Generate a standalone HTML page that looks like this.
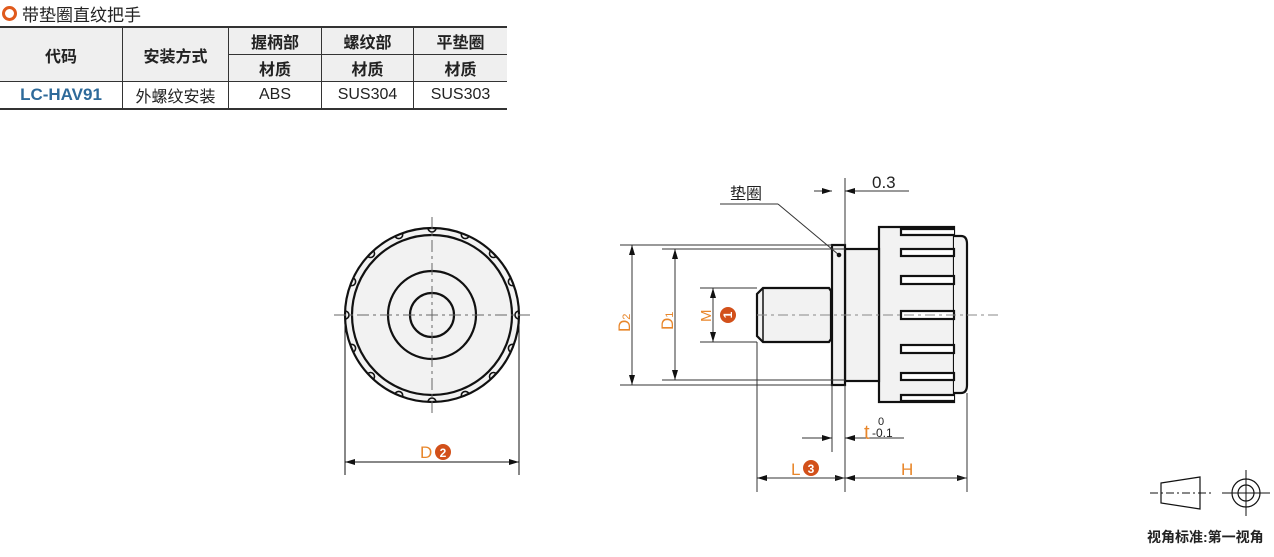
<!DOCTYPE html>
<html><head><meta charset="utf-8"><style>
body{margin:0;width:1274px;height:557px;background:#fff;overflow:hidden;position:relative;font-family:"Liberation Sans","Noto Sans CJK SC",sans-serif}
table{position:absolute;left:0;top:26px;border-collapse:collapse;font-size:16px;color:#222;border-top:2px solid #333;border-bottom:2px solid #333}
td{border:1px solid #333;text-align:center;height:26px;padding:0}
tr.h td{background:#efefef;font-weight:bold}
</style></head><body>
<div style="position:absolute;left:2px;top:1px;font-size:17px;color:#222;display:flex;align-items:center">
<span style="display:inline-block;width:9px;height:9px;border:3px solid #e05a1c;border-radius:50%;margin-right:5px"></span>带垫圈直纹把手</div>
<table>
<tr class="h"><td rowspan="2" style="width:122px;border-left:none">代码</td><td rowspan="2" style="width:105px">安装方式</td><td style="width:92px">握柄部</td><td style="width:91px">螺纹部</td><td style="width:93px;border-right:none">平垫圈</td></tr>
<tr class="h"><td>材质</td><td>材质</td><td style="border-right:none">材质</td></tr>
<tr><td style="border-left:none;color:#2e6a9a;font-weight:bold;font-size:17px">LC-HAV91</td><td>外螺纹安装</td><td>ABS</td><td>SUS304</td><td style="border-right:none">SUS303</td></tr>
</table>
<svg width="1274" height="557" style="position:absolute;left:0;top:0" xmlns="http://www.w3.org/2000/svg">
<defs>
<marker id="a" markerWidth="10" markerHeight="6" refX="10" refY="3" orient="auto" markerUnits="userSpaceOnUse"><path d="M0,0L10,3L0,6z" fill="#111"/></marker>
<clipPath id="c"><circle cx="432" cy="315" r="87"/></clipPath>
</defs>
<g stroke="#111" fill="none">
<!-- front view -->
<circle cx="432" cy="315" r="87" fill="#f2f2f2" stroke-width="2.2"/>
<circle cx="432" cy="315" r="80" stroke-width="2.2"/>
<circle cx="432" cy="315" r="44" stroke-width="2.2"/>
<circle cx="432" cy="315" r="22" stroke-width="2.2"/>
<g stroke-width="1.6" clip-path="url(#c)">
<circle cx="432" cy="228" r="4"/><circle cx="432" cy="402" r="4"/><circle cx="345" cy="315" r="4"/><circle cx="519" cy="315" r="4"/>
<circle cx="465.3" cy="234.6" r="4"/><circle cx="398.7" cy="234.6" r="4"/><circle cx="465.3" cy="395.4" r="4"/><circle cx="398.7" cy="395.4" r="4"/>
<circle cx="493.5" cy="253.5" r="4"/><circle cx="370.5" cy="253.5" r="4"/><circle cx="493.5" cy="376.5" r="4"/><circle cx="370.5" cy="376.5" r="4"/>
<circle cx="512.4" cy="281.7" r="4"/><circle cx="351.6" cy="281.7" r="4"/><circle cx="512.4" cy="348.3" r="4"/><circle cx="351.6" cy="348.3" r="4"/>
</g>
<g stroke="#666" stroke-width="1" stroke-dasharray="12,4,3,4"><line x1="334" y1="315" x2="530" y2="315"/><line x1="432" y1="217" x2="432" y2="413"/></g>
<g stroke-width="1"><line x1="345" y1="318" x2="345" y2="475"/><line x1="519" y1="318" x2="519" y2="475"/>
<line x1="345" y1="462" x2="519" y2="462" marker-end="url(#a)"/><line x1="519" y1="462" x2="345" y2="462" marker-end="url(#a)"/></g>
<!-- side view -->
<rect x="879" y="227" width="75" height="175" fill="#f2f2f2" stroke-width="2.2"/>
<path d="M954 236 H961 Q967 236 967 244 V385 Q967 393 961 393 H954" fill="#f2f2f2" stroke-width="2.2"/>
<g stroke-width="2.2" fill="#fff">
<path d="M954 229 H901 V235 H954"/><rect x="901" y="249" width="53" height="7"/><rect x="901" y="276" width="53" height="8"/><rect x="901" y="311" width="53" height="8"/><rect x="901" y="345" width="53" height="8"/><rect x="901" y="373" width="53" height="7"/><path d="M954 395 H901 V401 H954"/>
</g>
<rect x="845" y="249" width="34" height="132" fill="#f2f2f2" stroke-width="2.2"/>
<rect x="832" y="245" width="13" height="140" fill="#f2f2f2" stroke-width="2.2"/>
<path d="M763 288 H829 L831 291 V339 L829 342 H763 L757 336 V294 Z" fill="#f2f2f2" stroke-width="2.2"/>
<line x1="763" y1="288" x2="763" y2="342" stroke-width="1.5"/>
<line x1="757" y1="315" x2="1000" y2="315" stroke="#888" stroke-width="1" stroke-dasharray="10,4,3,4"/>
<g stroke-width="1" stroke="#333">
<line x1="620" y1="245" x2="832" y2="245"/><line x1="620" y1="385" x2="832" y2="385"/>
<line x1="662" y1="249" x2="845" y2="249"/><line x1="662" y1="380" x2="845" y2="380"/>
<line x1="700" y1="288" x2="757" y2="288"/><line x1="700" y1="342" x2="757" y2="342"/>
<line x1="632" y1="315" x2="632" y2="245" marker-end="url(#a)"/><line x1="632" y1="315" x2="632" y2="385" marker-end="url(#a)"/>
<line x1="675" y1="315" x2="675" y2="249" marker-end="url(#a)"/><line x1="675" y1="315" x2="675" y2="380" marker-end="url(#a)"/>
<line x1="713" y1="315" x2="713" y2="288" marker-end="url(#a)"/><line x1="713" y1="315" x2="713" y2="342" marker-end="url(#a)"/>
<line x1="845" y1="178" x2="845" y2="245"/>
<line x1="814" y1="191" x2="832" y2="191" marker-end="url(#a)"/><line x1="909" y1="191" x2="845" y2="191" marker-end="url(#a)"/>
<line x1="720" y1="204" x2="778" y2="204"/><line x1="778" y1="204" x2="839" y2="255"/>
<line x1="832" y1="385" x2="832" y2="452"/><line x1="845" y1="385" x2="845" y2="492"/>
<line x1="802" y1="438" x2="832" y2="438" marker-end="url(#a)"/><line x1="904" y1="438" x2="845" y2="438" marker-end="url(#a)"/>
<line x1="757" y1="342" x2="757" y2="492"/><line x1="967" y1="393" x2="967" y2="492"/>
<line x1="757" y1="478" x2="845" y2="478" marker-end="url(#a)"/><line x1="845" y1="478" x2="757" y2="478" marker-end="url(#a)"/>
<line x1="845" y1="478" x2="967" y2="478" marker-end="url(#a)"/><line x1="967" y1="478" x2="845" y2="478" marker-end="url(#a)"/>
</g>
<circle cx="839" cy="255" r="1.8" fill="#111"/>
<!-- projection symbol -->
<path d="M1161 483 L1200 477 V509 L1161 503 Z" stroke-width="1.2"/>
<line x1="1150" y1="493" x2="1212" y2="493" stroke-width="1" stroke-dasharray="8,3,2,3"/>
<circle cx="1246" cy="493" r="14" stroke-width="1.2"/><circle cx="1246" cy="493" r="8" stroke-width="1.2"/>
<line x1="1222" y1="493" x2="1270" y2="493" stroke-width="1"/><line x1="1246" y1="470" x2="1246" y2="516" stroke-width="1"/>
</g>
<g font-family="Liberation Sans, Noto Sans CJK SC, sans-serif">
<text x="420" y="458" font-size="17" fill="#e8862a">D</text>
<circle cx="443" cy="452" r="8" fill="#d2501a"/><text x="443" y="457" font-size="12" font-weight="bold" fill="#fff" text-anchor="middle">2</text>
<text transform="translate(630,332) rotate(-90)" font-size="17" fill="#e8862a">D<tspan font-size="11">2</tspan></text>
<text transform="translate(673,330) rotate(-90)" font-size="17" fill="#e8862a">D<tspan font-size="11">1</tspan></text>
<text transform="translate(711,322) rotate(-90)" font-size="15" fill="#e8862a">M</text>
<circle cx="728" cy="315" r="8" fill="#d2501a"/><text transform="translate(732,315) rotate(-90)" font-size="12" font-weight="bold" fill="#fff" text-anchor="middle">1</text>
<text x="872" y="188" font-size="17" fill="#222">0.3</text>
<text x="730" y="199" font-size="16" fill="#222">垫圈</text>
<text x="864" y="439" font-size="20" fill="#e8862a">t</text>
<text x="878" y="425" font-size="11" fill="#222">0</text>
<text x="872" y="437" font-size="12" fill="#222">-0.1</text>
<text x="791" y="475" font-size="17" fill="#e8862a">L</text>
<circle cx="811" cy="468" r="8" fill="#d2501a"/><text x="811" y="473" font-size="12" font-weight="bold" fill="#fff" text-anchor="middle">3</text>
<text x="901" y="475" font-size="17" fill="#e8862a">H</text>
<text x="1147" y="542" font-size="14" font-weight="bold" fill="#222">视角标准:第一视角</text>
</g>
</svg>
</body></html>
